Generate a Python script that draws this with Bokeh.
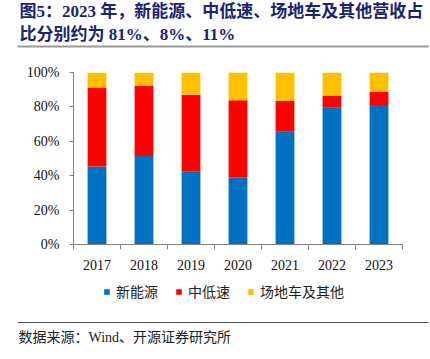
import numpy as np
from bokeh.plotting import figure
from bokeh.layouts import column
from bokeh.models import (ColumnDataSource, Range1d, FixedTicker, NumeralTickFormatter,
                          Legend, LegendItem)
from bokeh.core.properties import value
from bokeh.embed import file_html
from bokeh.resources import INLINE

years = ["2017", "2018", "2019", "2020", "2021", "2022", "2023"]
new_energy = [45.4, 51.5, 42.3, 39.0, 65.6, 79.5, 81.1]
low_speed = [45.9, 40.8, 44.8, 44.8, 17.8, 7.2, 7.5]
other = [8.7, 7.7, 12.9, 16.2, 16.6, 13.3, 11.4]
series_names = ["新能源", "中低速", "场地车及其他"]
colors = ["#0070C0", "#FF0000", "#FFC000"]
y_ticks = [0, 0.2, 0.4, 0.6, 0.8, 1.0]

title_lines = ["图5：2023 年，新能源、中低速、场地车及其他营收占", "比分别约为 81%、8%、11%"]
source_text = "数据来源：Wind、开源证券研究所"

W = 430
serif = "'Liberation Serif', 'Noto Sans CJK SC'"


def blank(h):
    f = figure(width=W, height=h, x_range=Range1d(0, W), y_range=Range1d(h, 0),
               output_backend="svg", toolbar_location=None, min_border=0,
               frame_align=False)
    f.axis.visible = False
    f.grid.visible = False
    f.outline_line_color = None
    return f


# ---------- header: title text, with the grey rule drawn as the frame's bottom axis line ----------
H1 = 50
hdr = figure(width=W, height=H1, x_range=Range1d(17, 428), y_range=Range1d(46, 0),
             output_backend="svg", toolbar_location=None,
             min_border_left=17, min_border_right=2, min_border_top=0,
             min_border_bottom=4, frame_align=False)
hdr.yaxis.visible = False
hdr.grid.visible = False
hdr.outline_line_color = None
hdr.xaxis.ticker = FixedTicker(ticks=[], minor_ticks=[])
hdr.xaxis.major_tick_out = 0
hdr.xaxis.major_tick_in = 0
hdr.xaxis.minor_tick_out = 0
hdr.xaxis.minor_tick_in = 0
hdr.xaxis.major_label_standoff = 0
hdr.xaxis.major_label_text_font_size = "0px"
hdr.xaxis.axis_line_color = "#9A9A9A"
hdr.xaxis.axis_line_width = 2
hdr.text(x=[19, 19], y=[11, 34], text=title_lines, text_font=value(serif),
         text_font_size="17px", text_font_style="bold", text_color="#1B2470",
         text_baseline="middle", text_align="left")

# ---------- main chart ----------
H2 = 230
idx = np.arange(len(years))
src = ColumnDataSource(dict(
    x=idx,
    ne=np.array(new_energy) / 100.0,
    ls=np.array(low_speed) / 100.0,
    ot=np.array(other) / 100.0,
))

p = figure(width=W, height=H2, x_range=Range1d(-0.5, len(years) - 0.5),
           y_range=Range1d(0, 1), output_backend="svg", toolbar_location=None,
           min_border_left=73, min_border_right=28, min_border_top=22,
           min_border_bottom=36, frame_align=False)
p.outline_line_color = None
p.grid.visible = False

rs = p.vbar_stack(["ne", "ls", "ot"], x="x", width=0.4, source=src,
                  color=colors, line_color=None)

p.xaxis.ticker = FixedTicker(ticks=list(idx),
                             minor_ticks=list(np.arange(len(years) + 1) - 0.5))
p.xaxis.major_label_overrides = {int(i): y for i, y in zip(idx, years)}
p.xaxis.major_tick_out = 0
p.xaxis.major_tick_in = 0
p.xaxis.minor_tick_out = 5
p.xaxis.minor_tick_in = 0
p.xaxis.major_label_standoff = 10

p.yaxis.ticker = FixedTicker(ticks=y_ticks, minor_ticks=[])
p.yaxis.formatter = NumeralTickFormatter(format="0%")
p.yaxis.major_tick_out = 4
p.yaxis.major_tick_in = 0
p.yaxis.minor_tick_out = 0
p.yaxis.minor_tick_in = 0
p.yaxis.major_label_standoff = 10

for ax in (p.xaxis, p.yaxis):
    ax.axis_line_color = "#808080"
    ax.major_tick_line_color = "#808080"
    ax.minor_tick_line_color = "#808080"
    ax.major_label_text_font = "Liberation Serif"
    ax.major_label_text_font_size = "14px"
    ax.major_label_text_color = "#111111"

# ---------- footer (legend + source) ----------
H3 = 355 - H1 - H2
ftr = blank(H3)
proxies = [ftr.vbar(x=[0], top=[0], bottom=[0], width=0.0, fill_color=c, line_color=None)
           for c in colors]
legend = Legend(items=[LegendItem(label=n, renderers=[r]) for n, r in zip(series_names, proxies)],
                orientation="horizontal", location=(103, H3 - 21),
                glyph_width=7, glyph_height=7, label_height=14, label_standoff=6,
                spacing=17, padding=0, margin=0, border_line_color=None,
                background_fill_alpha=0,
                label_text_font="Noto Sans CJK SC", label_text_font_size="14px",
                label_text_color="#222222")
ftr.add_layout(legend, "center")
ftr.segment(x0=[17], y0=[42], x1=[428], y1=[42], line_color="#555555", line_width=1)
ftr.text(x=[18], y=[57], text=[source_text], text_font=value(serif),
         text_font_size="14px", text_color="#222222",
         text_baseline="middle", text_align="left")

layout = column(hdr, p, ftr, spacing=0)
open("out.html", "w").write(file_html(layout, INLINE))
